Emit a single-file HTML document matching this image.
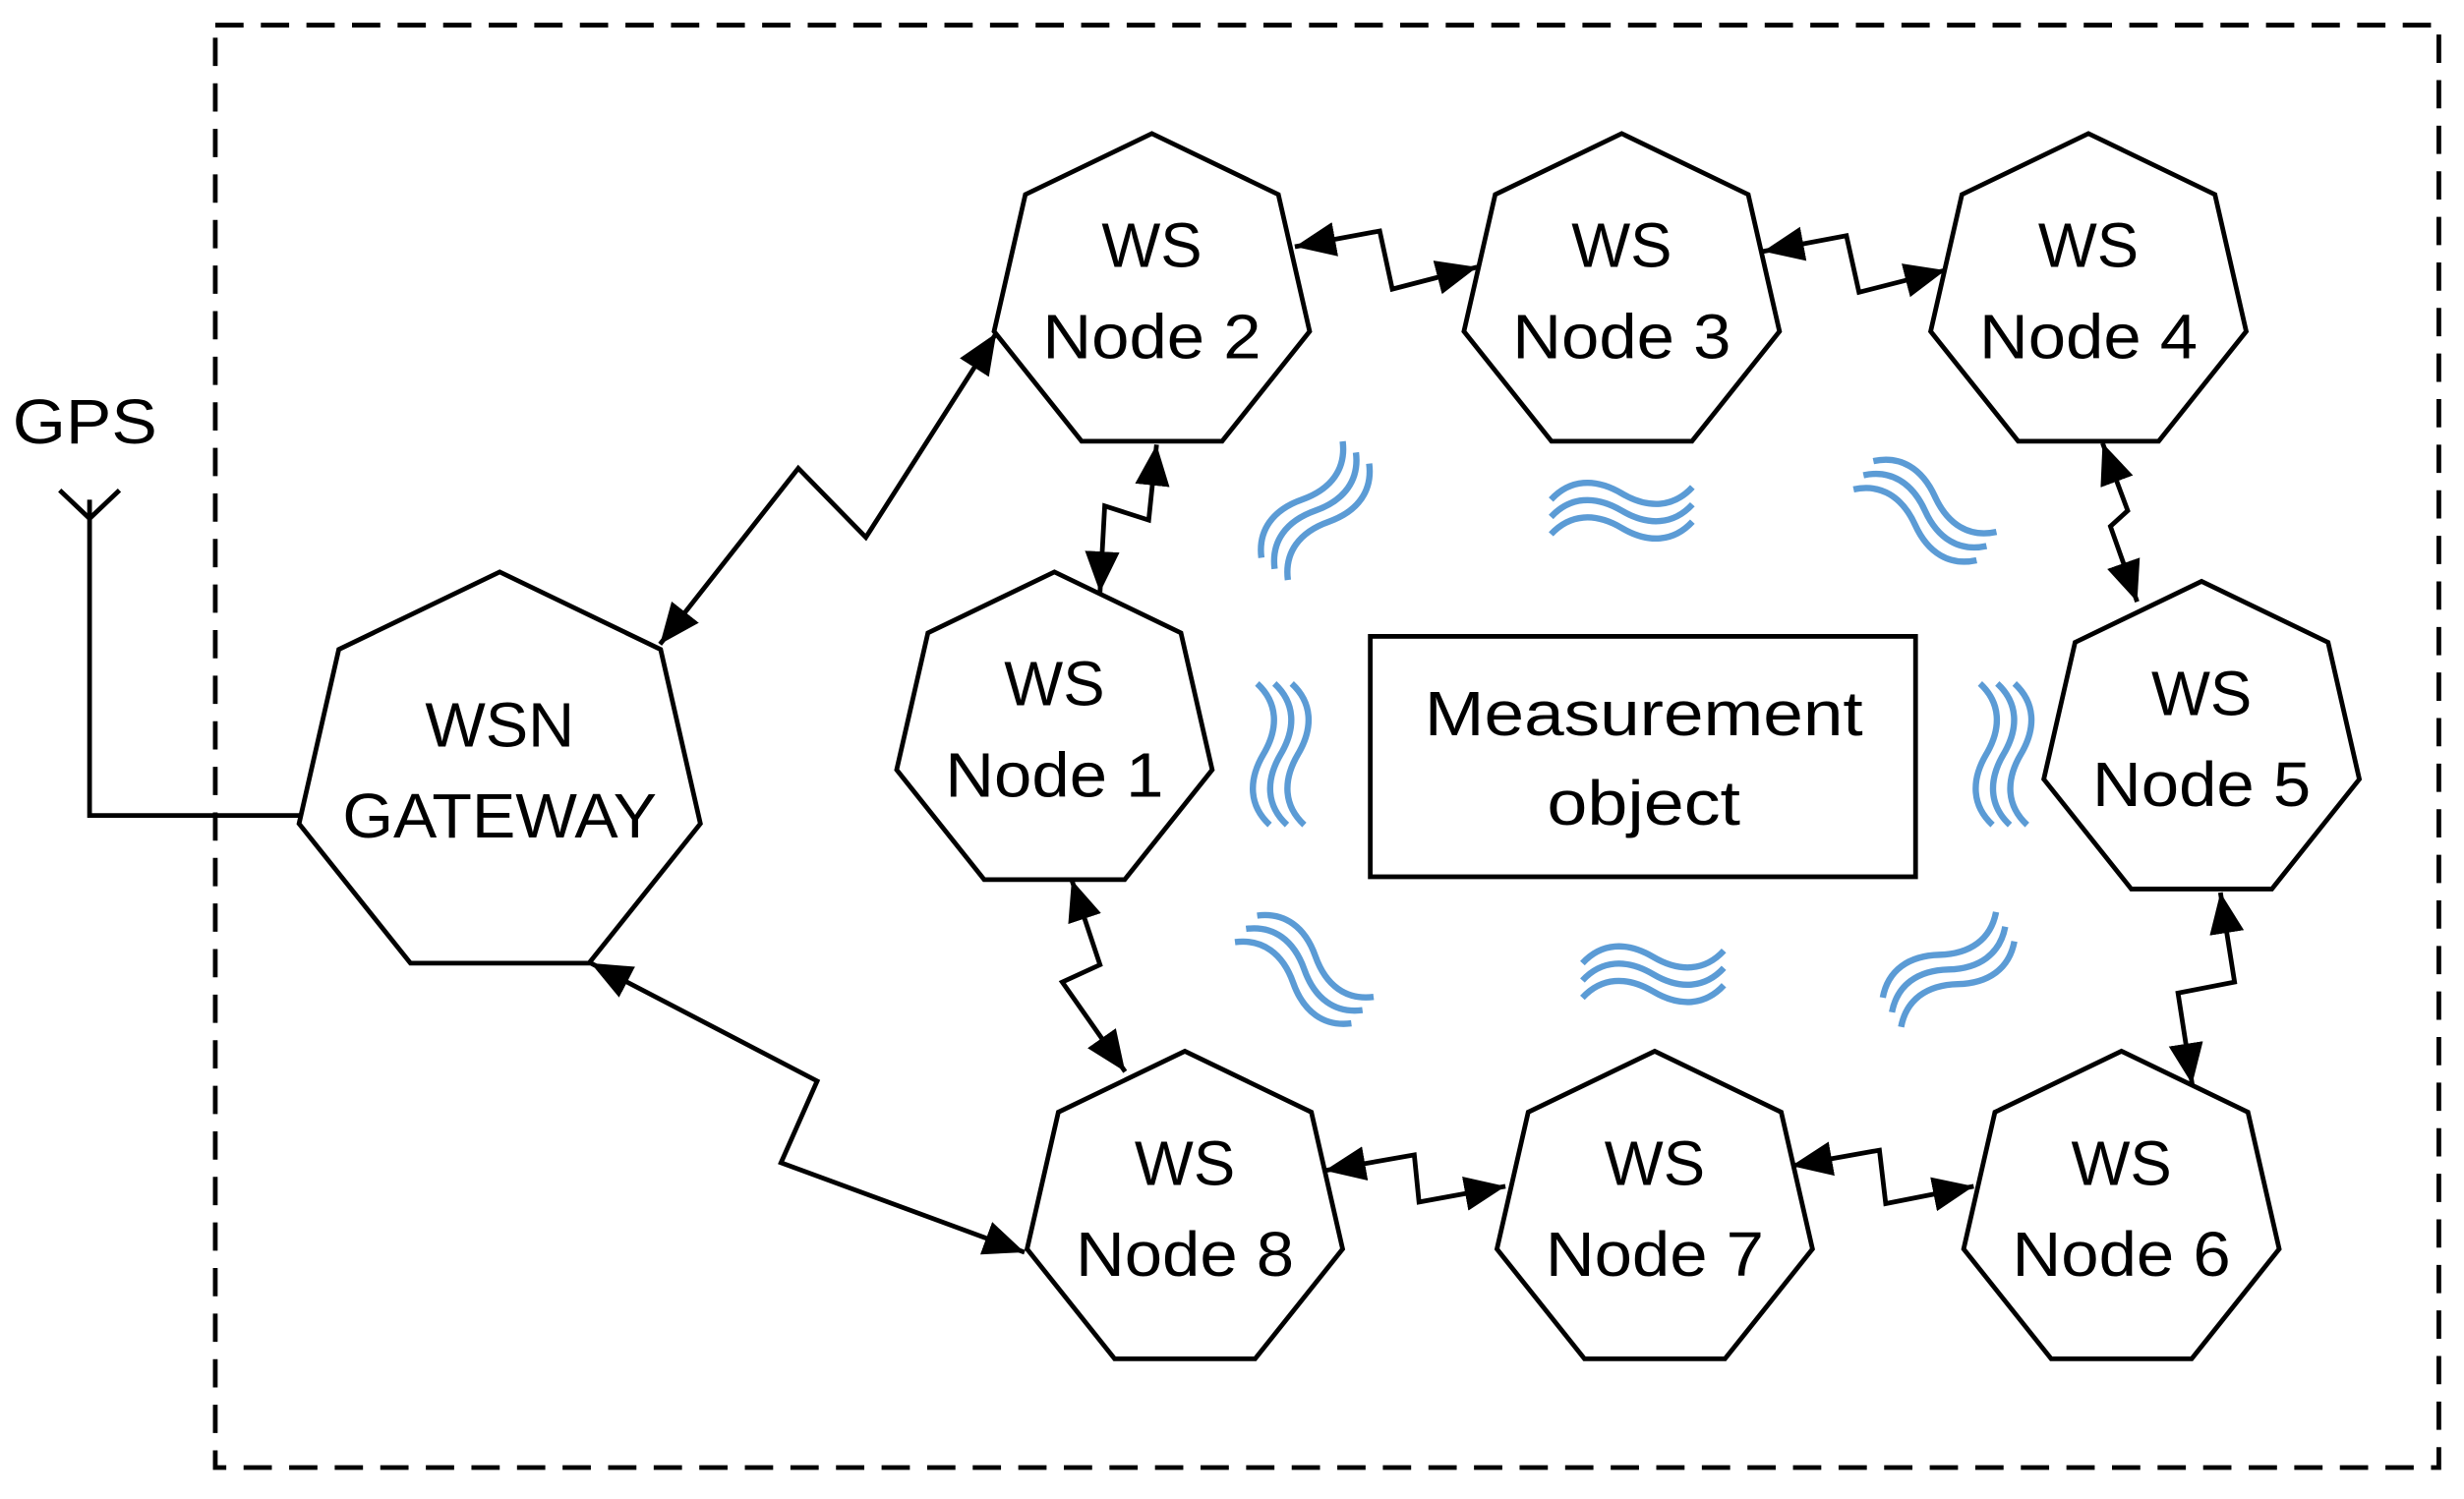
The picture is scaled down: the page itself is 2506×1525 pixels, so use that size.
<!DOCTYPE html>
<html><head><meta charset="utf-8"><style>html,body{margin:0;padding:0;background:#fff}svg{display:block}</style></head>
<body>
<svg width="2506" height="1525" viewBox="0 0 1568 954" preserveAspectRatio="none" xmlns="http://www.w3.org/2000/svg">
<defs>
<marker id="a" markerUnits="userSpaceOnUse" markerWidth="28" markerHeight="24" refX="26" refY="11" orient="auto-start-reverse" viewBox="0 0 28 22">
<path d="M0,0 L26,11 L0,22 Z" fill="#000"/></marker>
<path id="w" d="M-45 4 C-33 -9 -17 -10 0 0 C17 10 33 9 45 -4" fill="none" stroke="#5b9bd5" stroke-width="4"/>
<g id="ww"><use href="#w" y="-11"/><use href="#w"/><use href="#w" y="11"/></g>
</defs>
<rect x="137" y="16" width="1415" height="918" fill="none" stroke="#000" stroke-width="3" stroke-dasharray="18,11"/>
<text x="8" y="282" font-family="Liberation Sans, sans-serif" font-size="40" textLength="92" lengthAdjust="spacingAndGlyphs">GPS</text>
<polyline points="38,312 57,330 76,312" fill="none" stroke="#000" stroke-width="3"/>
<polyline points="57,318 57,519 192,519" fill="none" stroke="#000" stroke-width="3"/>
<g fill="#fff" stroke="#000" stroke-width="3" id="hex"></g>
<g font-family="Liberation Sans, sans-serif" font-size="40" text-anchor="middle" fill="#000" stroke="none" id="txt"></g>
<g fill="none" stroke="#000" stroke-width="3" marker-start="url(#a)" marker-end="url(#a)">
<polyline points="420,410 508,298 551,342 634,212"/>
<polyline points="376,613 520,688 497,740 652,797"/>
<polyline points="736,283 731,331 703,322 700,377"/>
<polyline points="682,560 700,614 676,625 716,682"/>
<polyline points="824,157 878,147 886,184 940,170"/>
<polyline points="1122,160 1175,150 1183,186 1238,172"/>
<polyline points="1338,282 1354,325 1343,335 1360,383"/>
<polyline points="1413,568 1422,625 1386,632 1395,690"/>
<polyline points="843,745 900,735 903,765 958,755"/>
<polyline points="1140,742 1196,732 1200,766 1256,755"/>
</g>
<rect x="872" y="405" width="347" height="153" fill="none" stroke="#000" stroke-width="3"/>
<text x="1046" y="468" font-family="Liberation Sans, sans-serif" font-size="40" text-anchor="middle" textLength="279" lengthAdjust="spacingAndGlyphs">Measurement</text>
<text x="1046" y="525" font-family="Liberation Sans, sans-serif" font-size="40" text-anchor="middle" textLength="123" lengthAdjust="spacingAndGlyphs">object</text>
<use href="#ww" transform="translate(837,325) rotate(-50)"/>
<use href="#ww" transform="translate(1032,325)"/>
<use href="#ww" transform="translate(1225,325) rotate(35)"/>
<use href="#ww" transform="translate(815,480) rotate(90)"/>
<use href="#ww" transform="translate(1275,480) rotate(90)"/>
<use href="#ww" transform="translate(830,617) rotate(40)"/>
<use href="#ww" transform="translate(1052,620)"/>
<use href="#ww" transform="translate(1240,617) rotate(-32)"/>
<script>
var H=document.getElementById('hex'),T=document.getElementById('txt'),ns='http://www.w3.org/2000/svg';
function hep(cx,cy,R,l1,l2,w1,w2,d1,d2){var p=[];for(var k=0;k<7;k++){var a=(-90+k*360/7)*Math.PI/180;p.push((cx+R*Math.cos(a)).toFixed(1)+','+(cy+R*Math.sin(a)).toFixed(1));}
var e=document.createElementNS(ns,'polygon');e.setAttribute('points',p.join(' '));H.appendChild(e);
[[l1,w1,d1],[l2,w2,d2]].forEach(function(t){var x=document.createElementNS(ns,'text');x.setAttribute('x',cx);x.setAttribute('y',cy+t[2]);x.setAttribute('textLength',t[1]);x.setAttribute('lengthAdjust','spacingAndGlyphs');x.textContent=t[0];T.appendChild(x);});}
hep(318,495,131,'WSN','GATEWAY',95,200,-20,38);
var N=[[671,467,'1'],[733,188,'2'],[1032,188,'3'],[1329,188,'4'],[1401,473,'5'],[1350,772,'6'],[1053,772,'7'],[754,772,'8']];
N.forEach(function(n){hep(n[0],n[1],103,'WS','Node '+n[2],64,139,-18,40);});
</script>
</svg>
</body></html>
